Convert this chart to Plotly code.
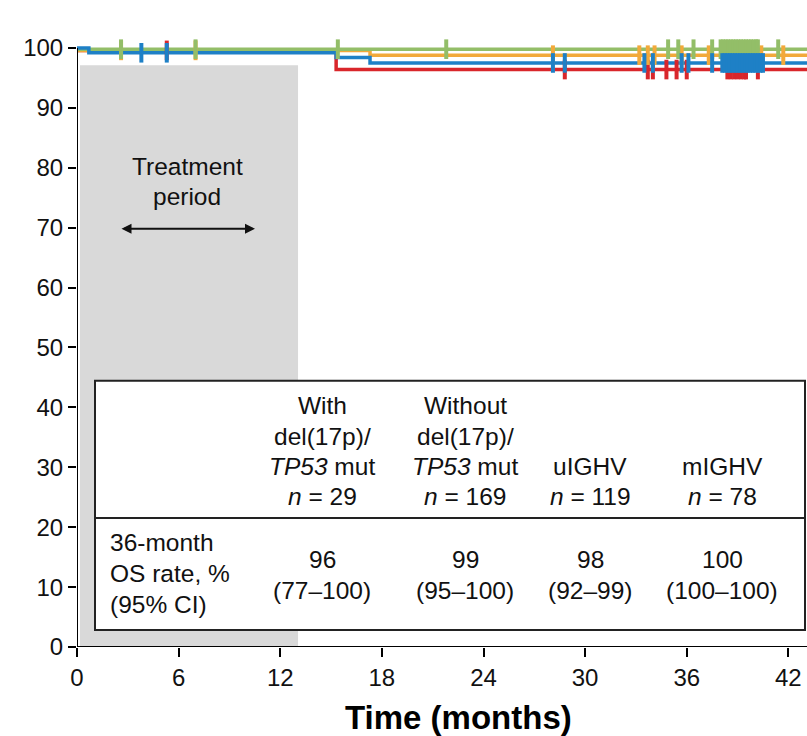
import plotly.graph_objects as go

# ---------------- data ----------------
x_ticks = [0, 6, 12, 18, 24, 30, 36, 42]
y_ticks = [0, 10, 20, 30, 40, 50, 60, 70, 80, 90, 100]
x_title = "Time (months)"

series_names = ["With del(17p)/TP53 mut", "Without del(17p)/TP53 mut", "mIGHV", "uIGHV"]
series_colors = ["#D9262B", "#F2A93A", "#93BE68", "#1E80C6"]

red_t = [0, 15.3, 43.1]
red_s = [99.6, 96.4, 96.4]
red_cens = [5.3, 28.8, 33.7, 34.0, 34.8, 35.4, 36.0, 38.4, 38.6, 38.8, 39.0, 39.2, 39.4, 39.5, 40.2]

orange_t = [0, 17.3, 43.1]
orange_s = [99.6, 98.8, 98.8]
orange_cens = [2.6, 7.0, 28.1, 33.2, 33.7, 34.1, 35.7, 37.3, 38.2, 38.5, 38.8, 39.1, 39.4, 39.7, 40.0,
               40.4, 41.7]

green_t = [0, 43.1]
green_s = [99.8, 99.8]
green_cens = [2.6, 7.0, 15.4, 21.8, 34.9, 35.5, 36.4, 37.5, 38.0, 38.15, 38.3, 38.45, 38.6, 38.75,
              38.9, 39.05, 39.2, 39.35, 39.5, 39.65, 39.8, 39.95, 40.1, 40.2, 41.4]

blue_t = [0, 0.7, 15.3, 17.3, 43.1]
blue_s = [100, 99.2, 98.4, 97.5, 97.5]
blue_cens = [3.8, 5.3, 28.1, 28.8, 33.5, 34.0, 35.7, 36.1, 37.5, 38.1, 38.25, 38.4, 38.55, 38.7,
             38.85, 39.0, 39.15, 39.3, 39.45, 39.6, 39.75, 39.9, 40.05, 40.2, 40.35, 40.5]

col_headers = [
    ["With", "del(17p)/", "<i>TP53</i> mut", "<i>n</i> = 29"],
    ["Without", "del(17p)/", "<i>TP53</i> mut", "<i>n</i> = 169"],
    ["uIGHV", "<i>n</i> = 119"],
    ["mIGHV", "<i>n</i> = 78"],
]
row_label = ["36-month", "OS rate, %", "(95% CI)"]
os_rates = ["96", "99", "98", "100"]
os_ci = ["(77\u2013100)", "(95\u2013100)", "(92\u201399)", "(100\u2013100)"]
treatment_label = ["Treatment", "period"]
treatment_end = 13.05

# ---------------- helpers ----------------
XMAX = 43.1
PX_X = 730 / XMAX        # px per month
PX_Y = 5.985             # px per %
def dx(px):
    return (px - 77) / PX_X
def dy(py):
    return (647 - py) / PX_Y

def surv_at(t_list, s_list, t):
    val = s_list[0]
    for ti, si in zip(t_list, s_list):
        if t >= ti:
            val = si
    return val

FONT = "Liberation Sans, Arial, sans-serif"
TXT = "#111"
FS = 24.5

fig = go.Figure()

# treatment period shading
fig.add_shape(type="rect", xref="x", yref="y", x0=dx(80), x1=treatment_end, y0=0, y1=97.1,
              fillcolor="#D9D9D9", line_width=0, layer="below")

curves = [
    (red_t, red_s, red_cens, series_colors[0], series_names[0]),
    (orange_t, orange_s, orange_cens, series_colors[1], series_names[1]),
    (green_t, green_s, green_cens, series_colors[2], series_names[2]),
    (blue_t, blue_s, blue_cens, series_colors[3], series_names[3]),
]
for t, s, cens, col, name in curves:
    fig.add_trace(go.Scatter(x=t, y=s, mode="lines", line=dict(color=col, width=3.5, shape="hv"),
                             name=name, showlegend=False, cliponaxis=False))
for t, s, cens, col, name in curves:
    fig.add_trace(go.Scatter(x=cens, y=[surv_at(t, s, c) for c in cens], mode="markers",
                             marker=dict(symbol="line-ns", size=14, line=dict(color=col, width=4)),
                             showlegend=False, cliponaxis=False))

# axis lines
fig.add_shape(type="line", xref="x", yref="y", x0=0, x1=0, y0=0, y1=100, line=dict(color="black", width=2))
fig.add_shape(type="line", xref="x", yref="y", x0=0, x1=XMAX, y0=0, y1=0, line=dict(color="black", width=2))

# treatment label + arrow
for i, line in enumerate(treatment_label):
    fig.add_annotation(x=dx(187), y=dy(167 + 30 * i), text=line, showarrow=False,
                       font=dict(family=FONT, size=FS, color=TXT), xanchor="center", yanchor="middle")
fig.add_annotation(x=dx(255), y=dy(229), ax=dx(120), ay=dy(229), axref="x", ayref="y",
                   xref="x", yref="y", text="", showarrow=True, arrowhead=2, arrowside="end+start",
                   arrowsize=1, arrowwidth=2, arrowcolor=TXT)

# table
fig.add_shape(type="rect", xref="x", yref="y", x0=dx(95), x1=dx(805), y0=dy(630), y1=dy(381),
              line=dict(color="#222", width=2), fillcolor="white", layer="above")
fig.add_shape(type="line", xref="x", yref="y", x0=dx(95), x1=dx(805), y0=dy(518), y1=dy(518),
              line=dict(color="#222", width=2))

col_px = [322, 465, 590, 722]
for cx, lines in zip(col_px, col_headers):
    n = len(lines)
    for i, line in enumerate(lines):
        py = 497 - 30.3 * (n - 1 - i)
        fig.add_annotation(x=dx(cx), y=dy(py), text=line, showarrow=False,
                           font=dict(family=FONT, size=FS, color=TXT), xanchor="center", yanchor="middle")
for i, line in enumerate(row_label):
    fig.add_annotation(x=dx(108), y=dy(543 + 31 * i), text=line, showarrow=False,
                       font=dict(family=FONT, size=FS, color=TXT), xanchor="left", yanchor="middle")
for cx, r, ci in zip(col_px, os_rates, os_ci):
    fig.add_annotation(x=dx(cx), y=dy(560), text=r, showarrow=False,
                       font=dict(family=FONT, size=FS, color=TXT), xanchor="center", yanchor="middle")
    fig.add_annotation(x=dx(cx), y=dy(591), text=ci, showarrow=False,
                       font=dict(family=FONT, size=FS, color=TXT), xanchor="center", yanchor="middle")

# x-axis title (paper coords are relative to the plot area: x 77..807 px, y 39..647 px)
fig.add_annotation(x=(459 - 77) / 730, y=(647 - 717) / 608, xref="paper", yref="paper",
                   text="<b>" + x_title + "</b>", showarrow=False,
                   font=dict(family=FONT, size=33, color="black"), xanchor="center", yanchor="middle")

fig.update_layout(
    width=807, height=736,
    margin=dict(l=77, r=0, t=39, b=89),
    plot_bgcolor="white", paper_bgcolor="white",
    font=dict(family=FONT, size=22, color=TXT),
    xaxis=dict(range=[0, XMAX], tickvals=x_ticks, ticks="outside", ticklen=9, tickwidth=2,
               tickcolor="black", showgrid=False, zeroline=False, showline=False,
               tickfont=dict(size=24, family=FONT, color=TXT)),
    yaxis=dict(range=[0, 101.5], tickvals=y_ticks, ticks="outside", ticklen=8, tickwidth=2,
               tickcolor="black", showgrid=False, zeroline=False, showline=False,
               tickfont=dict(size=24, family=FONT, color=TXT)),
)

fig.write_html("out.html")
